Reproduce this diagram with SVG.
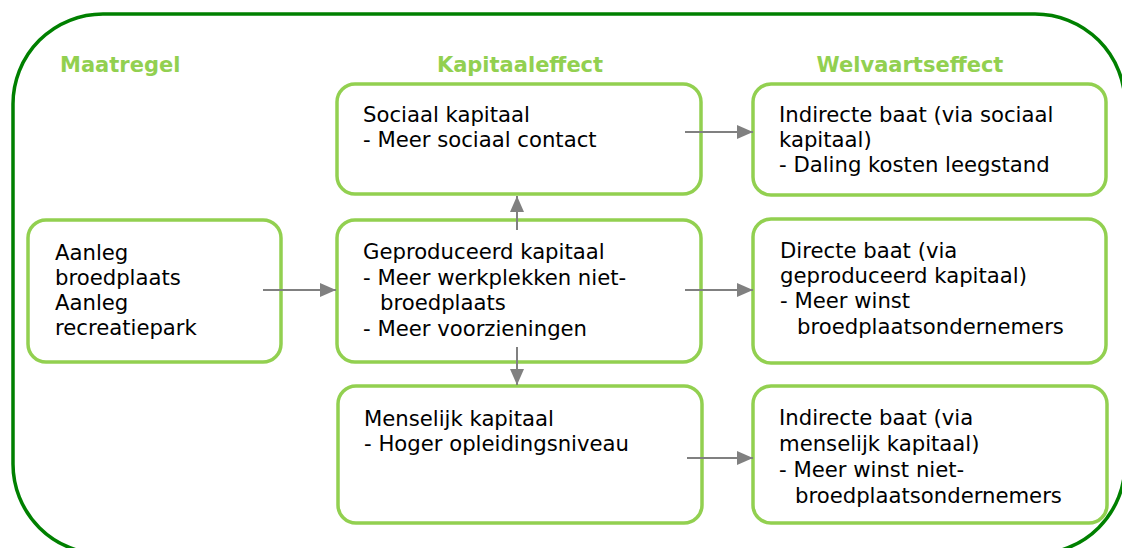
<svg xmlns="http://www.w3.org/2000/svg" width="1122" height="548" viewBox="0 0 1122 548">
<style>
.box{fill:#fff;stroke:#92D050;stroke-width:3.5}
.t{font-family:"DejaVu Sans",Verdana,sans-serif;font-size:21.2px;fill:#000}
.h{font-family:"DejaVu Sans",Verdana,sans-serif;font-size:21px;font-weight:bold;fill:#92D050}
.c{stroke:#808080;stroke-width:2;fill:none;marker-end:url(#ah)}
</style>
<defs>
<marker id="ah" markerWidth="16" markerHeight="14" refX="16" refY="7" orient="auto" markerUnits="userSpaceOnUse">
<path d="M0,0 L16,7 L0,14 Z" fill="#808080"/>
</marker>
</defs>
<rect x="0" y="0" width="1122" height="548" fill="#fff"/>
<rect id="frame" x="13" y="14" width="1112" height="540" rx="90" ry="90" fill="none" stroke="#008000" stroke-width="3.5"/>
<g id="headers">
<text class="h" x="60" y="72">Maatregel</text>
<text class="h" x="520" y="72" text-anchor="middle">Kapitaaleffect</text>
<text class="h" x="910" y="72" text-anchor="middle">Welvaartseffect</text>
</g>
<g id="n-maatregel">
<rect class="box" x="28" y="220" width="253" height="142" rx="18"/>
<text class="t" x="55" y="260">Aanleg</text>
<text class="t" x="55" y="285">broedplaats</text>
<text class="t" x="55" y="310">Aanleg</text>
<text class="t" x="55" y="335">recreatiepark</text>
</g>
<g id="n-sociaal">
<rect class="box" x="337" y="84" width="364" height="110" rx="18"/>
<text class="t" x="363" y="122">Sociaal kapitaal</text>
<text class="t" x="363" y="147">- Meer sociaal contact</text>
</g>
<g id="n-geproduceerd">
<rect class="box" x="337" y="220" width="364" height="142" rx="18"/>
<text class="t" x="363" y="259">Geproduceerd kapitaal</text>
<text class="t" x="363" y="285">- Meer werkplekken niet-</text>
<text class="t" x="380" y="310">broedplaats</text>
<text class="t" x="363" y="336">- Meer voorzieningen</text>
</g>
<g id="n-menselijk">
<rect class="box" x="338" y="386" width="364" height="137" rx="18"/>
<text class="t" x="364" y="426">Menselijk kapitaal</text>
<text class="t" x="364" y="451">- Hoger opleidingsniveau</text>
</g>
<g id="n-indirect-sociaal">
<rect class="box" x="753" y="84" width="353" height="111" rx="18"/>
<text class="t" x="779" y="122">Indirecte baat (via sociaal</text>
<text class="t" x="779" y="147">kapitaal)</text>
<text class="t" x="779" y="172">- Daling kosten leegstand</text>
</g>
<g id="n-direct">
<rect class="box" x="753" y="219" width="353" height="144" rx="18"/>
<text class="t" x="780" y="258">Directe baat (via</text>
<text class="t" x="780" y="283">geproduceerd kapitaal)</text>
<text class="t" x="780" y="308">- Meer winst</text>
<text class="t" x="797" y="334">broedplaatsondernemers</text>
</g>
<g id="n-indirect-menselijk">
<rect class="box" x="753" y="386" width="354" height="137" rx="18"/>
<text class="t" x="779" y="425">Indirecte baat (via</text>
<text class="t" x="779" y="451">menselijk kapitaal)</text>
<text class="t" x="779" y="477">- Meer winst niet-</text>
<text class="t" x="795" y="503">broedplaatsondernemers</text>
</g>
<g id="connectors">
<line class="c" x1="263" y1="290" x2="336" y2="290"/>
<line class="c" x1="517" y1="230" x2="517" y2="196"/>
<line class="c" x1="517" y1="347" x2="517" y2="385"/>
<line class="c" x1="685" y1="132" x2="753" y2="132"/>
<line class="c" x1="685" y1="290" x2="753" y2="290"/>
<line class="c" x1="687" y1="458" x2="753" y2="458"/>
</g>
</svg>
